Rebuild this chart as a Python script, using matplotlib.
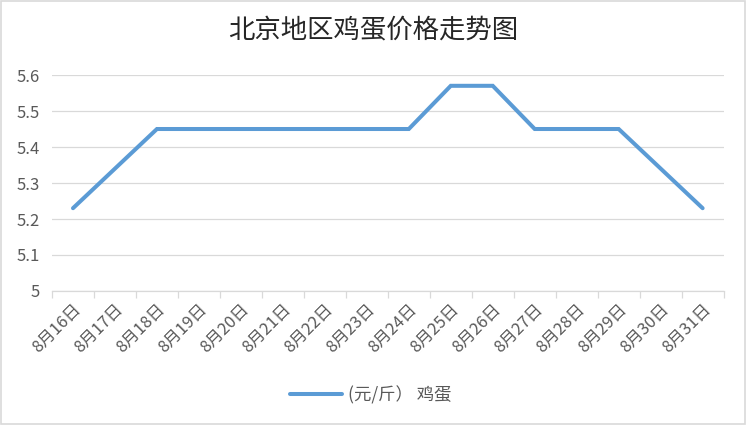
import matplotlib
matplotlib.use("Agg")
import matplotlib.pyplot as plt

plt.rcParams['font.family'] = ['Noto Sans CJK SC', 'DejaVu Sans']

dates = ["8月16日", "8月17日", "8月18日", "8月19日", "8月20日", "8月21日", "8月22日", "8月23日",
         "8月24日", "8月25日", "8月26日", "8月27日", "8月28日", "8月29日", "8月30日", "8月31日"]
prices = [5.23, 5.34, 5.45, 5.45, 5.45, 5.45, 5.45, 5.45,
          5.45, 5.57, 5.57, 5.45, 5.45, 5.45, 5.34, 5.23]
yticks = [5, 5.1, 5.2, 5.3, 5.4, 5.5, 5.6]
ytick_labels = ["5", "5.1", "5.2", "5.3", "5.4", "5.5", "5.6"]

fig = plt.figure(figsize=(7.46, 4.25), dpi=100)
ax = fig.add_axes([0.0697, 0.3153, 0.9003, 0.5082])

x = list(range(len(dates)))
line, = ax.plot(x, prices, color='#5B9BD5', linewidth=2.9, solid_capstyle='round',
                solid_joinstyle='miter', label='(元/斤） 鸡蛋', zorder=3)

ax.set_xlim(-0.5, len(dates) - 0.5)
ax.set_ylim(5, 5.6)
ax.set_yticks(yticks)
ax.set_yticklabels(ytick_labels)
ax.grid(axis='y', color='#D9D9D9', linewidth=0.9)
ax.set_axisbelow(True)
for s in ['top', 'right', 'left']:
    ax.spines[s].set_visible(False)
ax.spines['bottom'].set_color('#D9D9D9')
ax.spines['bottom'].set_linewidth(0.9)

ax.set_xticks([i - 0.5 for i in range(len(dates) + 1)], minor=False)
ax.set_xticklabels([])
ax.tick_params(axis='x', which='major', length=5, color='#D9D9D9', width=0.9)
ax.set_xticks(x, minor=True)
ax.set_xticklabels(dates, minor=True, rotation=45, ha='right', rotation_mode='anchor',
                   fontsize=12, color='#595959')
ax.tick_params(axis='x', which='minor', length=0, pad=7)
ax.tick_params(axis='y', length=0, labelsize=12, labelcolor='#595959', pad=9)

fig.text(0.5, 0.93, '北京地区鸡蛋价格走势图', ha='center', va='center', fontsize=19, color='#262626')

fig.legend(handles=[line], loc='center', bbox_to_anchor=(0.497, 0.07), frameon=False,
           fontsize=12.5, labelcolor='#595959', handlelength=3.0, handletextpad=0.3)

border = plt.Rectangle((0.001, 0.002), 0.997, 0.996, transform=fig.transFigure,
                       fill=False, edgecolor='#D9D9D9', linewidth=1.2)
fig.add_artist(border)

fig.savefig('out.png', dpi=100)
